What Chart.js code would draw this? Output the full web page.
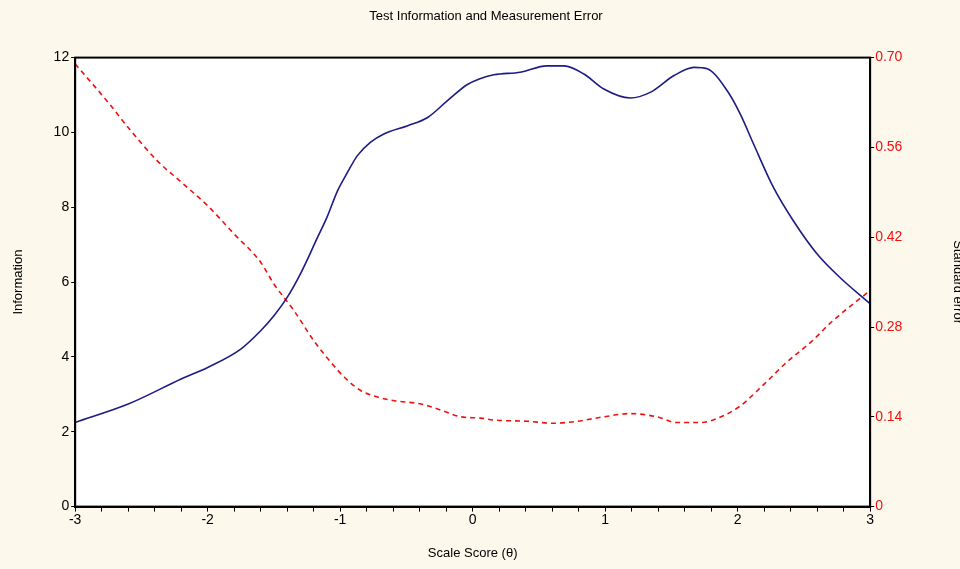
<!DOCTYPE html>
<html><head><meta charset="utf-8">
<script src="https://cdn.jsdelivr.net/npm/chart.js@4/dist/chart.umd.min.js"></script>
<style>
html,body{margin:0;padding:0;background:#fdf8ec;overflow:hidden;width:960px;height:569px;}
#wrap{width:966px;height:569px;position:relative;}
</style></head>
<body><div id="wrap"><canvas id="c"></canvas></div>
<script>
const chartTitle = 'Test Information and Measurement Error';
const xTitle = 'Scale Score (θ)';
const yTitle = 'Information';
const y2Title = 'Standard error';
const thetaInfo = [-3.0,-2.6,-2.2,-2.0,-1.75,-1.6,-1.5,-1.4,-1.3,-1.17,-1.1,-1.02,-0.945,-0.87,-0.77,-0.67,-0.49,-0.34,-0.19,-0.04,0.05,0.16,0.36,0.56,0.69,0.84,0.99,1.19,1.34,1.52,1.67,1.77,1.92,2.02,2.12,2.27,2.42,2.6,2.77,3.0];
const information = [2.25,2.74,3.41,3.72,4.21,4.70,5.10,5.59,6.22,7.20,7.73,8.44,8.93,9.38,9.74,9.96,10.18,10.40,10.85,11.28,11.43,11.54,11.61,11.78,11.78,11.56,11.16,10.92,11.07,11.52,11.74,11.70,11.12,10.49,9.69,8.53,7.64,6.75,6.13,5.42];
const thetaSE = [-3.0,-2.75,-2.6,-2.38,-2.2,-2.0,-1.8,-1.6,-1.5,-1.35,-1.2,-1.07,-0.97,-0.845,-0.72,-0.59,-0.39,-0.22,-0.09,0.06,0.16,0.41,0.61,0.79,0.99,1.19,1.39,1.54,1.72,1.84,2.02,2.2,2.37,2.55,2.72,3.0];
const standardError = [0.69,0.630,0.591,0.539,0.506,0.469,0.425,0.381,0.347,0.306,0.259,0.225,0.202,0.181,0.171,0.165,0.160,0.149,0.140,0.138,0.135,0.133,0.130,0.133,0.140,0.145,0.140,0.131,0.131,0.137,0.157,0.191,0.225,0.256,0.290,0.337];
const xMin = -3, xMax = 3, xStep = 0.2;
const yMin = 0, yMax = 12, yStep = 2;
const y2Min = 0, y2Max = 0.70, y2Step = 0.14;

const font = 'Arial, "Liberation Sans", sans-serif';
const frame = {
  id:'frame',
  beforeDraw(ch){const {ctx,chartArea:a}=ch;ctx.save();ctx.fillStyle='#ffffff';ctx.fillRect(a.left,a.top,a.right-a.left,a.bottom-a.top);ctx.restore();},
  afterDraw(ch){const {ctx,chartArea:a}=ch;ctx.save();ctx.strokeStyle='#000';ctx.lineWidth=2;ctx.strokeRect(a.left,a.top,a.right-a.left,a.bottom-a.top);ctx.restore();}
};
new Chart(document.getElementById('c'),{
  type:'line',
  data:{datasets:[
    {label:'Information',data:thetaInfo.map((t,i)=>({x:t,y:information[i]})),yAxisID:'y',borderColor:'#1c1c84',borderWidth:1.6,pointRadius:0,cubicInterpolationMode:'monotone',fill:false},
    {label:'Standard error',data:thetaSE.map((t,i)=>({x:t,y:standardError[i]})),yAxisID:'y2',borderColor:'#ee1111',borderWidth:1.6,borderDash:[5,4],pointRadius:0,cubicInterpolationMode:'monotone',fill:false}
  ]},
  options:{
    responsive:true,maintainAspectRatio:false,animation:false,
    layout:{padding:{left:6,right:0,top:0,bottom:6}},
    plugins:{legend:{display:false},tooltip:{enabled:false},
      title:{display:true,text:chartTitle,color:'#000',font:{family:font,size:13,weight:'normal'},padding:{top:9,bottom:33}}},
    scales:{
      x:{type:'linear',min:xMin,max:xMax,
        ticks:{stepSize:xStep,autoSkip:false,maxRotation:0,color:'#000',font:{family:font,size:14},padding:0,
          callback:v=>Math.abs(v-Math.round(v))<1e-6?String(Math.round(v)):''},
        grid:{drawOnChartArea:false,drawTicks:true,tickLength:5,color:'#000',tickColor:'#000'},
        border:{display:true,color:'#000',width:2},
        title:{display:true,text:xTitle,color:'#000',font:{family:font,size:13},padding:{top:17,bottom:2}}},
      y:{type:'linear',position:'left',min:yMin,max:yMax,
        ticks:{stepSize:yStep,color:'#000',font:{family:font,size:14},padding:2},
        grid:{drawOnChartArea:false,tickLength:4,tickColor:'#000'},
        border:{display:true,color:'#000',width:2},
        title:{display:true,text:yTitle,color:'#000',font:{family:font,size:13},padding:{top:5,bottom:25}}},
      y2:{type:'linear',position:'right',min:y2Min,max:y2Max,
        ticks:{stepSize:y2Step,color:'#ee1111',font:{family:font,size:14},padding:1,
          callback:v=>v===0?'0':v.toFixed(2)},
        grid:{drawOnChartArea:false,tickLength:4,tickColor:'#000'},
        border:{display:true,color:'#000',width:2},
        title:{display:true,text:y2Title,color:'#000',font:{family:font,size:13},padding:{top:1,bottom:46}}}
    }
  },
  plugins:[frame]
});
</script></body></html>
